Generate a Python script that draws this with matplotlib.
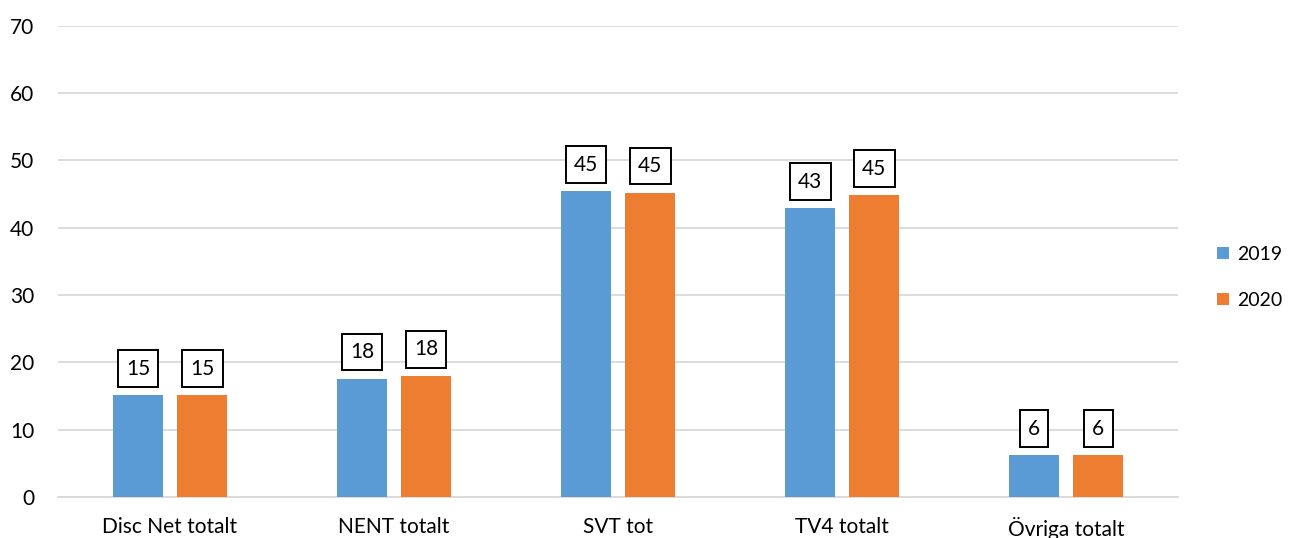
import numpy as np
import matplotlib.pyplot as plt

# Data
kategorier = ["Disc Net totalt", "NENT totalt", "SVT tot", "TV4 totalt", "Övriga totalt"]
varden_2019 = [15.1, 17.6, 45.4, 42.9, 6.2]
varden_2020 = [15.1, 18.0, 45.2, 44.8, 6.2]
etiketter_2019 = ["15", "18", "45", "43", "6"]
etiketter_2020 = ["15", "18", "45", "45", "6"]

plt.rcParams['font.family'] = ['Lato', 'DejaVu Sans']

fig = plt.figure(figsize=(12.89, 5.38), dpi=100)
ax = fig.add_axes([0.045, 0.076, 0.869, 0.876])

x = np.arange(len(kategorier))
bredd = 0.223
offset = 0.143

b1 = ax.bar(x - offset, varden_2019, bredd, color='#5B9BD5', label='2019', zorder=3)
b2 = ax.bar(x + offset, varden_2020, bredd, color='#ED7D31', label='2020', zorder=3)

box = dict(boxstyle='square,pad=0.4', facecolor='white', edgecolor='black', linewidth=1.4)
for bars, labs in [(b1, etiketter_2019), (b2, etiketter_2020)]:
    for rect, lab in zip(bars, labs):
        ax.annotate(lab, (rect.get_x() + rect.get_width() / 2, rect.get_height()),
                    xytext=(0, 12), textcoords='offset points', ha='center', va='bottom',
                    fontsize=15, bbox=box, zorder=4)

ax.set_xlim(-0.5, len(kategorier) - 0.5)
ax.set_ylim(0, 70)
ax.set_yticks(range(0, 71, 10))
ax.set_xticks(x)
ax.set_xticklabels(kategorier)
ax.tick_params(axis='both', length=0, labelsize=15, colors='black')
ax.tick_params(axis='x', pad=14)
ax.tick_params(axis='y', pad=17)
ax.grid(axis='y', color='#D9D9D9', linewidth=1.3, zorder=0)
for s in ['top', 'right', 'left']:
    ax.spines[s].set_visible(False)
ax.spines['bottom'].set_color('#D9D9D9')
ax.spines['bottom'].set_linewidth(1.3)

ax.legend(loc='center left', bbox_to_anchor=(1.035, 0.466), frameon=False, fontsize=14,
          handlelength=0.6, handleheight=0.6, handletextpad=0.4, labelspacing=1.5,
          borderaxespad=0, borderpad=0)

fig.savefig('out.png', dpi=100)
